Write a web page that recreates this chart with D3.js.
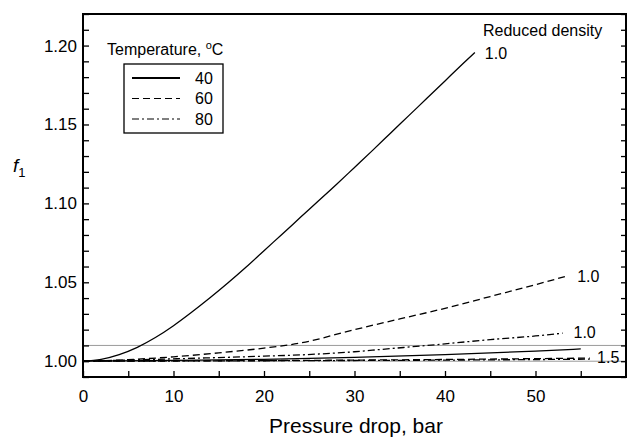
<!DOCTYPE html>
<html lang="en">
	<head>
		<meta charset="utf-8">
		<title>f1 vs pressure drop</title>
		<script type="text/javascript" src="https://cdn.jsdelivr.net/npm/d3@7"></script>
		<style type="text/css">
			body { margin: 0; background: #fff; }
			svg text { font-family: "Liberation Sans", Arial, Helvetica, sans-serif; fill: #000; }
		</style>
	</head>
	<body>
		<script type="text/javascript">

			// curves: pressure drop (bar) -> f1
			var x40_10 = [0, 2, 4, 6, 8, 10, 12, 14, 16, 18, 20, 22, 24, 26, 28, 30, 32, 34, 36, 38, 40, 42, 43.3];
			var f40_10 = [1.000, 1.0012, 1.0042, 1.0088, 1.0150, 1.0225, 1.0310, 1.0400, 1.0495, 1.0595, 1.0700, 1.0805,
						  1.0910, 1.1015, 1.1120, 1.1228, 1.1336, 1.1446, 1.1556, 1.1666, 1.1776, 1.1886, 1.1956];

			var x60_10 = [0, 5, 10, 15, 20, 24, 30, 35, 40, 45, 50, 53.5];
			var f60_10 = [1.000, 1.0010, 1.0028, 1.0053, 1.0083, 1.0115, 1.0200, 1.0268, 1.0335, 1.0410, 1.0485, 1.0540];

			var x80_10 = [0, 10, 20, 24, 30, 33, 40, 45, 50, 53];
			var f80_10 = [1.000, 1.0015, 1.0032, 1.0040, 1.0060, 1.0075, 1.0110, 1.0137, 1.0160, 1.0178];

			var x40_15 = [0, 10, 20, 30, 40, 50, 55];
			var f40_15 = [1.000, 1.0005, 1.0012, 1.0024, 1.0042, 1.0064, 1.0078];

			var x60_15 = [0, 20, 40, 56];
			var f60_15 = [1.000, 1.0004, 1.0011, 1.0020];

			var x80_15 = [0, 20, 40, 56];
			var f80_15 = [1.000, 1.0003, 1.0007, 1.0013];

			var legendTemps = ["40", "60", "80"];
			var xTicks = [0, 5, 10, 15, 20, 25, 30, 35, 40, 45, 50, 55];
			var xLabels = [0, 10, 20, 30, 40, 50];
			var yLabels = [1.00, 1.05, 1.10, 1.15, 1.20];
			var refLines = [1.00, 1.01];

			var w = 627;
			var h = 440;
			var padL = 83, padR = 626, padT = 14, padB = 377;

			var x = d3.scaleLinear().domain([0, 60]).range([padL, padR]);
			var y = d3.scaleLinear().domain([0.99, 1.22]).range([padB, padT]);

			var svg = d3.select("body")
						.append("svg")
						.attr("width", w)
						.attr("height", h);

			// thin grey reference lines
			svg.selectAll("line.ref")
				.data(refLines)
				.enter()
				.append("line")
				.attr("class", "ref")
				.attr("x1", padL).attr("x2", padR)
				.attr("y1", function(d) { return y(d); })
				.attr("y2", function(d) { return y(d); })
				.attr("stroke", "#9a9a9a")
				.attr("stroke-width", 1);

			var yTicks = d3.range(99, 123).map(function(v) { return v / 100; });
			function isLabel(v) { return yLabels.some(function(l) { return Math.abs(l - v) < 1e-6; }); }

			var yAxis = d3.axisLeft(y)
				.tickValues(yTicks)
				.tickSize(-6)
				.tickPadding(6)
				.tickFormat(function(d) { return isLabel(d) ? d3.format(".2f")(d) : ""; });

			var gy = svg.append("g").attr("transform", "translate(" + padL + ",0)").call(yAxis);
			gy.select(".domain").remove();
			gy.selectAll("text").attr("font-size", "17px");

			var gyr = svg.append("g").attr("transform", "translate(" + padR + ",0)")
				.call(d3.axisRight(y).tickValues(yTicks).tickSize(-5).tickFormat(""));
			gyr.select(".domain").remove();

			var xAxis = d3.axisBottom(x)
				.tickValues(xTicks)
				.tickSize(-6)
				.tickPadding(13)
				.tickFormat(function(d) { return xLabels.indexOf(d) >= 0 ? d : ""; });

			var gx = svg.append("g").attr("transform", "translate(0," + padB + ")").call(xAxis);
			gx.select(".domain").remove();
			gx.selectAll("text").attr("font-size", "17px");

			svg.selectAll(".tick line").attr("stroke", "#000").attr("stroke-width", 1.3);

			// frame
			svg.append("rect")
				.attr("x", padL).attr("y", padT)
				.attr("width", padR - padL).attr("height", padB - padT)
				.attr("fill", "none")
				.attr("stroke", "#000")
				.attr("stroke-width", 2);

			var line = d3.line()
				.x(function(d) { return x(d[0]); })
				.y(function(d) { return y(d[1]); })
				.curve(d3.curveMonotoneX);

			var dashes = { "40": null, "60": "7,4", "80": "7,3,2,3" };

			var curves = [
				{ t: "40", xs: x40_10, fs: f40_10 },
				{ t: "60", xs: x60_10, fs: f60_10 },
				{ t: "80", xs: x80_10, fs: f80_10 },
				{ t: "40", xs: x40_15, fs: f40_15 },
				{ t: "60", xs: x60_15, fs: f60_15 },
				{ t: "80", xs: x80_15, fs: f80_15 }
			];

			svg.selectAll("path.curve")
				.data(curves)
				.enter()
				.append("path")
				.attr("class", "curve")
				.attr("d", function(c) { return line(d3.zip(c.xs, c.fs)); })
				.attr("fill", "none")
				.attr("stroke", "#000")
				.attr("stroke-width", 1.3)
				.attr("stroke-dasharray", function(c) { return dashes[c.t]; });

			// density labels
			var notes = [
				{ px: 44.4, f: 1.1953, s: "1.0" },
				{ px: 54.6, f: 1.0535, s: "1.0" },
				{ px: 54.2, f: 1.0180, s: "1.0" },
				{ px: 56.8, f: 1.0025, s: "1.5" }
			];
			svg.selectAll("text.note")
				.data(notes)
				.enter()
				.append("text")
				.attr("class", "note")
				.attr("x", function(d) { return x(d.px); })
				.attr("y", function(d) { return y(d.f); })
				.attr("dy", "0.35em")
				.attr("font-size", "16px")
				.text(function(d) { return d.s; });

			svg.append("text")
				.attr("x", 483).attr("y", 36)
				.attr("font-size", "16px")
				.text("Reduced density");

			// legend
			var title = svg.append("text")
				.attr("x", 107).attr("y", 55)
				.attr("font-size", "16px");
			title.append("tspan").text("Temperature,  ");
			title.append("tspan").attr("font-size", "11px").attr("dy", "-6").text("o");
			title.append("tspan").attr("dy", "6").text("C");

			svg.append("rect")
				.attr("x", 124).attr("y", 64)
				.attr("width", 99).attr("height", 69)
				.attr("fill", "#fff")
				.attr("stroke", "#000")
				.attr("stroke-width", 1.3);

			var lg = svg.selectAll("g.leg")
				.data(legendTemps)
				.enter()
				.append("g")
				.attr("class", "leg")
				.attr("transform", function(d, i) { return "translate(0," + (78 + i * 20.5) + ")"; });

			lg.append("line")
				.attr("x1", 132).attr("x2", 180)
				.attr("stroke", "#000")
				.attr("stroke-width", function(d) { return d === "40" ? 2.2 : 1.2; })
				.attr("stroke-dasharray", function(d) { return dashes[d]; });

			lg.append("text")
				.attr("x", 195)
				.attr("dy", "0.35em")
				.attr("font-size", "16px")
				.text(function(d) { return d; });

			// axis titles
			svg.append("text")
				.attr("x", 356)
				.attr("y", 433)
				.attr("text-anchor", "middle")
				.attr("font-size", "21px")
				.text("Pressure drop, bar");

			var fl = svg.append("text")
				.attr("x", 13).attr("y", 172)
				.attr("font-size", "19px");
			fl.append("tspan").attr("font-style", "italic").text("f");
			fl.append("tspan").attr("font-size", "13px").attr("dy", "5").text("1");

		</script>
	</body>
</html>
